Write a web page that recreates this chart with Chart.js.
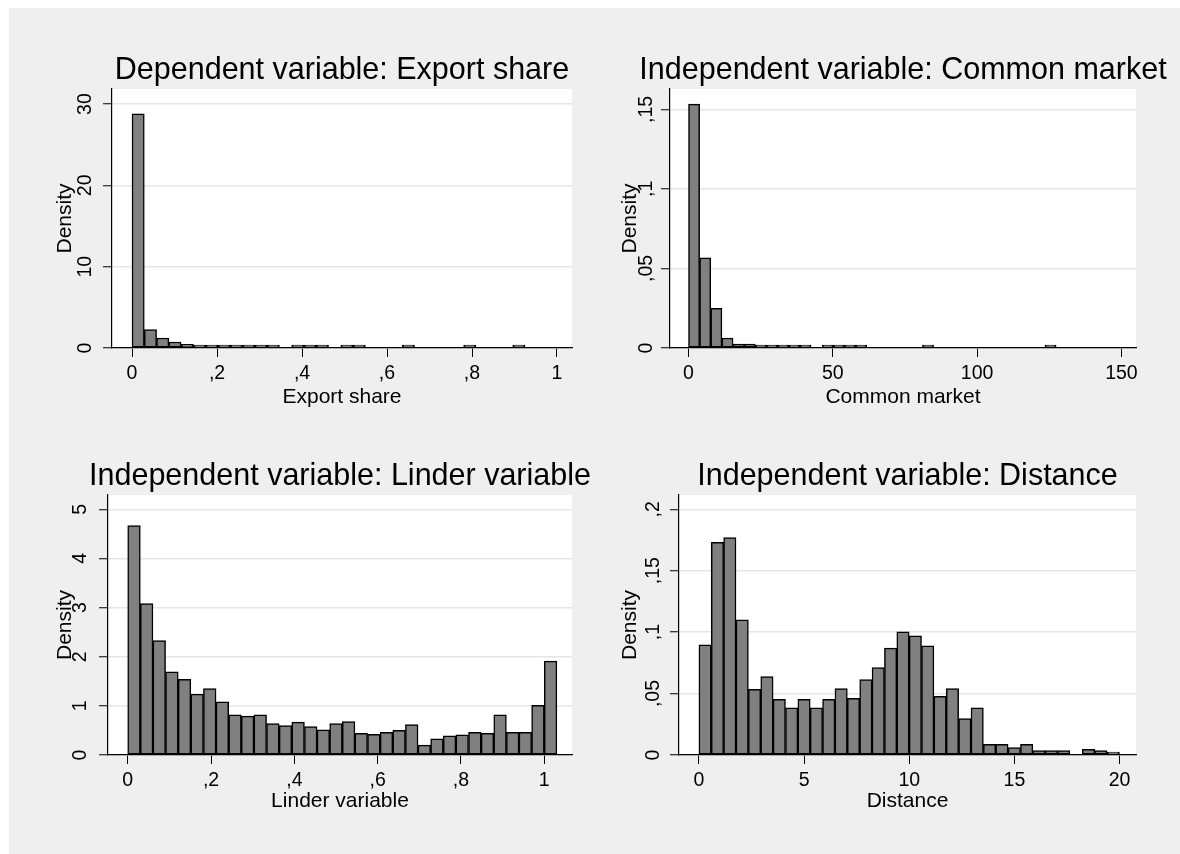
<!DOCTYPE html>
<html>
<head>
<meta charset="utf-8">
<title>Histograms: export share, common market, Linder variable, distance</title>
<script src="https://cdn.jsdelivr.net/npm/chart.js@4.4.1/dist/chart.umd.min.js"></script>
<style>
  html, body { margin: 0; padding: 0; background: #ffffff; width: 1180px; height: 854px; overflow: hidden; }
  #frame { position: absolute; left: 9px; top: 8px; width: 1171px; height: 846px; background: #efefef; }
  canvas { position: absolute; }
</style>
</head>
<body>
<div id="frame"></div>
<canvas id="c1"></canvas>
<canvas id="c2"></canvas>
<canvas id="c3"></canvas>
<canvas id="c4"></canvas>
<script>
// ---- Histogram data (densities per bin; null = empty bin) ----
const exportBinStart = 0;
const exportBinWidth = 0.0289;
const exportDensity = [28.8, 2.25, 1.23, 0.74, 0.45, 0.15, 0.3, 0.05, 0.05, 0.05, 0.05, 0.05,
  null, 0.04, 0.04, 0.04, null, 0.04, 0.04, null, null, null, 0.04, null, null, null, null,
  0.04, null, null, null, 0.04];

const commonBinStart = 0;
const commonBinWidth = 3.86;
const commonDensity = [0.1533, 0.0566, 0.0250, 0.0063, 0.0025, 0.0025, 0.0017, 0.0017, 0.0006,
  0.0013, 0.0006, null, 0.0006, 0.0006, 0.0006, 0.0006, null, null, null, null, null, 0.0003,
  null, null, null, null, null, null, null, null, null, null, 0.0003];

const linderBinStart = 0;
const linderBinWidth = 0.0303;
const linderDensity = [4.67, 3.08, 2.33, 1.69, 1.54, 1.24, 1.35, 1.08, 0.82, 0.79, 0.82, 0.64,
  0.60, 0.67, 0.58, 0.51, 0.64, 0.68, 0.44, 0.42, 0.46, 0.50, 0.62, 0.20, 0.33, 0.39, 0.41,
  0.46, 0.44, 0.82, 0.46, 0.46, 1.01, 1.91];

const distanceBinStart = 0;
const distanceBinWidth = 0.588;
const distanceDensity = [0.0897, 0.1731, 0.1769, 0.1101, 0.0535, 0.0639, 0.0454, 0.0383, 0.0454,
  0.0383, 0.0454, 0.0541, 0.0462, 0.0614, 0.0712, 0.0870, 0.1003, 0.0970, 0.0889, 0.0478, 0.0541,
  0.0296, 0.0383, 0.0087, 0.0087, 0.0060, 0.0087, 0.0035, 0.0035, 0.0035, null, 0.0046, 0.0035, 0.0016];

// ---- Tick values ----
const exportXTicks = [0, 0.2, 0.4, 0.6, 0.8, 1];
const exportYTicks = [0, 10, 20, 30];
const commonXTicks = [0, 50, 100, 150];
const commonYTicks = [0, 0.05, 0.1, 0.15];
const linderXTicks = [0, 0.2, 0.4, 0.6, 0.8, 1];
const linderYTicks = [0, 1, 2, 3, 4, 5];
const distanceXTicks = [0, 5, 10, 15, 20];
const distanceYTicks = [0, 0.05, 0.1, 0.15, 0.2];

// ---- Text ----
const panelTitles = ['Dependent variable: Export share', 'Independent variable: Common market',
  'Independent variable: Linder variable', 'Independent variable: Distance'];
const xAxisTitles = ['Export share', 'Common market', 'Linder variable', 'Distance'];
const yAxisTitle = 'Density';

// ---- Layout ----
const FAMILY = "'Liberation Sans', Arial, Helvetica, sans-serif";
Chart.defaults.font.family = FAMILY;
Chart.defaults.color = '#000';

// decimal comma, leading zero dropped: 0.05 -> ",05"
function fmt(v) {
  if (Math.abs(v) < 1e-12) return '0';
  let s = String(+v.toFixed(4));
  if (s.startsWith('0.')) s = s.slice(1);
  return s.replace('.', ',');
}

function toPoints(start, width, density) {
  return density.map((d, i) => ({ x: start + width * (i + 0.5), y: d }));
}

const panels = [
  { id: 'c1', title: panelTitles[0], xTitle: xAxisTitles[0],
    data: toPoints(exportBinStart, exportBinWidth, exportDensity),
    xTicks: exportXTicks, yTicks: exportYTicks, xMin: -0.0471, xMax: 1.0353, yMax: 31.85,
    box: { x: 15, y: 30, w: 585, h: 390 }, area: { l: 112, t: 89, r: 572, b: 348 },
    yLabelPad: 6.4, densityPad: 37.2, xTitlePad: 10.2 },
  { id: 'c2', title: panelTitles[1], xTitle: xAxisTitles[1],
    data: toPoints(commonBinStart, commonBinWidth, commonDensity),
    xTicks: commonXTicks, yTicks: commonYTicks, xMin: -6.41, xMax: 155.06, yMax: 0.1628,
    box: { x: 600, y: 30, w: 580, h: 390 }, area: { l: 670, t: 89, r: 1136, b: 348 },
    yLabelPad: 1.0, densityPad: 17.6, xTitlePad: 10.2 },
  { id: 'c3', title: panelTitles[2], xTitle: xAxisTitles[2],
    data: toPoints(linderBinStart, linderBinWidth, linderDensity),
    xTicks: linderXTicks, yTicks: linderYTicks, xMin: -0.0473, xMax: 1.0665, yMax: 5.291,
    box: { x: 15, y: 440, w: 585, h: 380 }, area: { l: 108, t: 495, r: 572, b: 755 },
    yLabelPad: 12.8, densityPad: 37.4, xTitlePad: 6.6 },
  { id: 'c4', title: panelTitles[3], xTitle: xAxisTitles[3],
    data: toPoints(distanceBinStart, distanceBinWidth, distanceDensity),
    xTicks: distanceXTicks, yTicks: distanceYTicks, xMin: -0.946, xMax: 20.78, yMax: 0.2116,
    box: { x: 600, y: 440, w: 580, h: 380 }, area: { l: 679, t: 495, r: 1136, b: 755 },
    yLabelPad: 2.45, densityPad: 17.2, xTitlePad: 6.6 }
];

// white plot region behind grid and bars
const plotBackground = {
  id: 'plotBackground',
  beforeDraw(chart) {
    const { ctx, chartArea: a } = chart;
    ctx.save();
    ctx.fillStyle = '#ffffff';
    ctx.fillRect(a.left, a.top, a.right - a.left, a.bottom - a.top);
    ctx.restore();
  }
};

// panel heading centred over the plot region
const panelTitle = {
  id: 'panelTitle',
  afterDraw(chart, args, opts) {
    const { ctx, chartArea: a } = chart;
    ctx.save();
    ctx.font = opts.size + 'px ' + FAMILY;
    ctx.fillStyle = '#000';
    ctx.textAlign = 'center';
    ctx.textBaseline = 'alphabetic';
    ctx.fillText(opts.text, (a.left + a.right) / 2, a.top - opts.gap);
    ctx.restore();
  }
};

panels.forEach(p => {
  const cv = document.getElementById(p.id);
  cv.width = p.box.w; cv.height = p.box.h;
  cv.style.left = p.box.x + 'px'; cv.style.top = p.box.y + 'px';
  cv.style.width = p.box.w + 'px'; cv.style.height = p.box.h + 'px';

  new Chart(cv, {
    type: 'bar',
    data: {
      datasets: [{
        data: p.data,
        backgroundColor: '#808080',
        borderColor: '#000000',
        borderWidth: 1.5,
        borderSkipped: false,
        barPercentage: 1,
        categoryPercentage: 1,
        minBarLength: 3
      }]
    },
    plugins: [plotBackground, panelTitle],
    options: {
      responsive: false,
      animation: false,
      devicePixelRatio: 1,
      events: [],
      layout: { padding: { left: 0, top: p.area.t - p.box.y, right: p.box.x + p.box.w - p.area.r, bottom: 0 } },
      plugins: {
        legend: { display: false },
        tooltip: { enabled: false },
        title: { display: false },
        panelTitle: { text: p.title, size: 30.5, gap: 10 }
      },
      scales: {
        x: {
          type: 'linear',
          position: 'bottom',
          min: p.xMin, max: p.xMax,
          offset: false,
          afterBuildTicks: s => { s.ticks = p.xTicks.map(v => ({ value: v })); },
          afterFit: s => { s.height = p.box.y + p.box.h - p.area.b; },
          grid: { display: true, drawOnChartArea: false, drawTicks: true, tickLength: 9,
                  tickColor: '#000', tickWidth: 1, offset: false },
          border: { display: true, color: '#000', width: 1.2, z: 1 },
          ticks: { autoSkip: false, maxRotation: 0, minRotation: 0, padding: 5,
                   font: { size: 19.5 }, color: '#000', callback: v => fmt(v) },
          title: { display: true, text: p.xTitle, font: { size: 21 }, color: '#000',
                   padding: { top: 0, bottom: p.xTitlePad } }
        },
        y: {
          type: 'linear',
          position: 'left',
          min: 0, max: p.yMax,
          afterBuildTicks: s => { s.ticks = p.yTicks.map(v => ({ value: v })); },
          afterFit: s => { s.width = p.area.l - p.box.x; },
          grid: { display: true, drawOnChartArea: true, color: '#e6e6e6', lineWidth: 1.5,
                  drawTicks: true, tickLength: 9, tickColor: '#000', tickWidth: 1 },
          border: { display: true, color: '#000', width: 1.2, z: 1 },
          ticks: { autoSkip: false, minRotation: 90, maxRotation: 90, crossAlign: 'center',
                   padding: p.yLabelPad, font: { size: 19.5 }, color: '#000', callback: v => fmt(v) },
          title: { display: true, text: yAxisTitle, font: { size: 21 }, color: '#000',
                   padding: { top: p.densityPad, bottom: 0 } }
        }
      }
    }
  });
});
</script>
</body>
</html>
